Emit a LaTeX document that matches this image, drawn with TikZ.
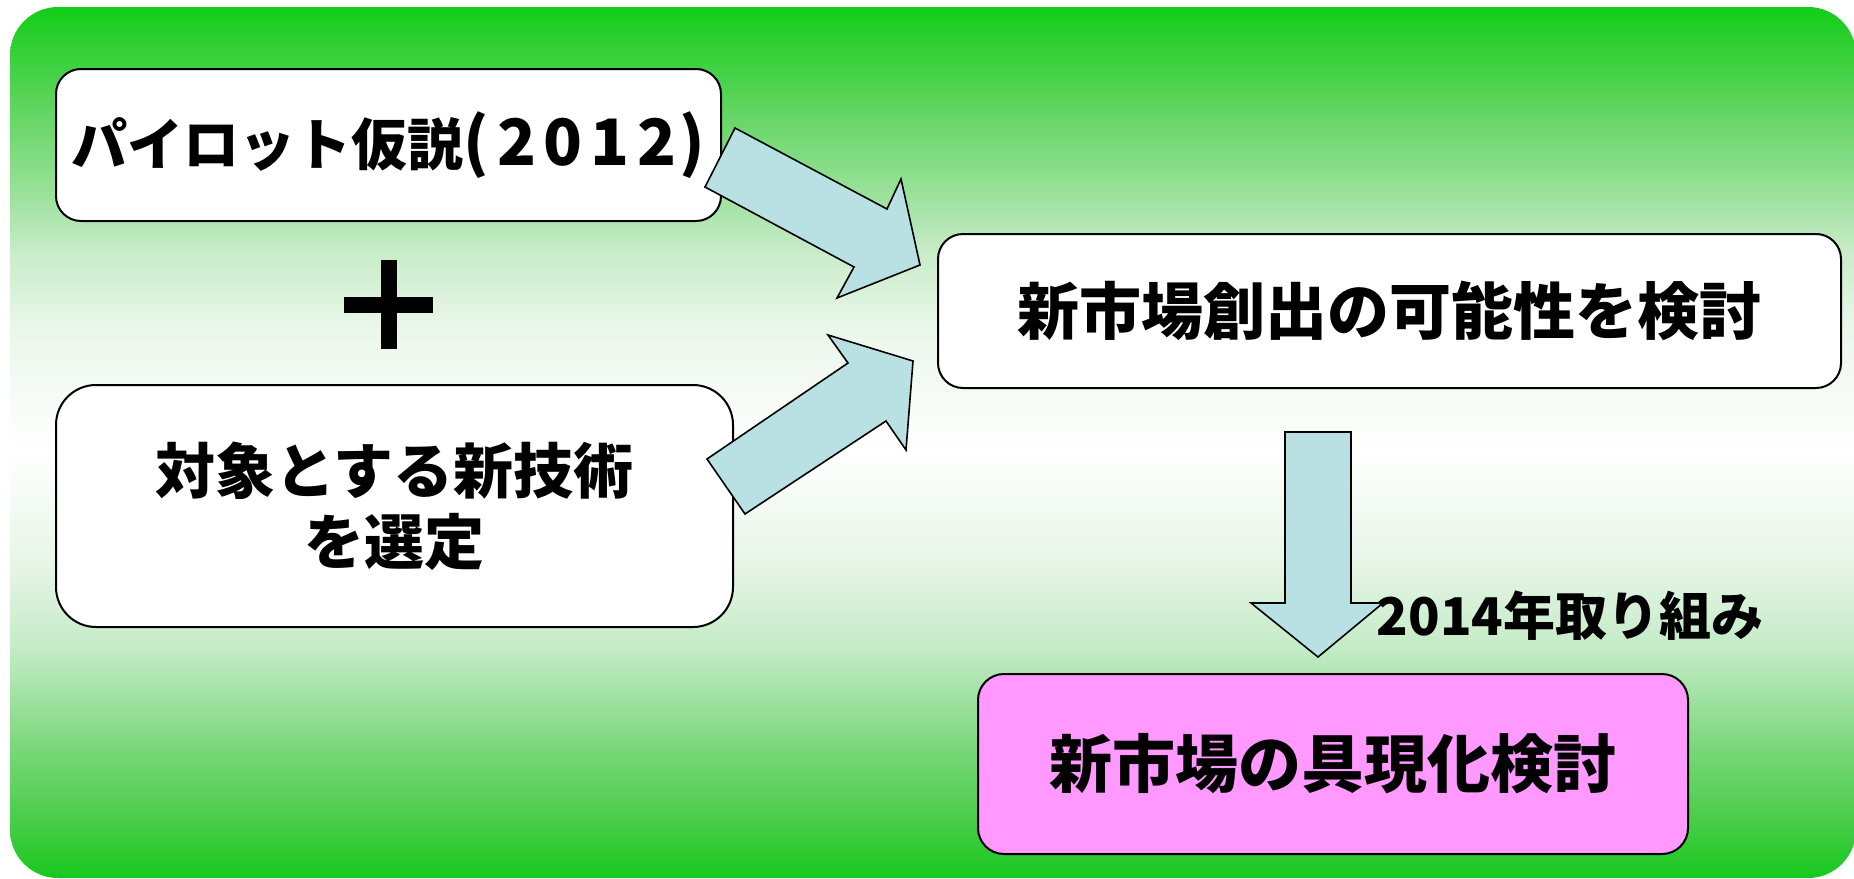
\documentclass[tikz,border=0pt]{standalone}
\usepackage{fontspec}
\setmainfont{Noto Sans CJK JP}
\definecolor{g0}{RGB}{14,204,20}
\definecolor{g1}{RGB}{90,212,90}
\definecolor{g2}{RGB}{160,226,160}
\definecolor{g3}{RGB}{200,236,200}
\definecolor{g4}{RGB}{235,247,235}
\definecolor{g5}{RGB}{255,255,255}
\definecolor{g6}{RGB}{232,246,232}
\definecolor{g7}{RGB}{195,235,198}
\definecolor{g8}{RGB}{120,215,120}
\definecolor{g9}{RGB}{75,205,75}
\definecolor{g10}{RGB}{22,200,28}
\definecolor{arrowblue}{RGB}{185,224,227}
\definecolor{boxpink}{RGB}{255,153,255}
\begin{document}
\begin{tikzpicture}[x=1pt,y=-1pt,
  box/.style={draw=black, line width=2pt, fill=white, inner sep=0pt, align=center},
  blockarrow/.style={draw=black, line width=1.6pt, fill=arrowblue, line join=miter},
  plusbar/.style={fill=black, draw=none}]
\useasboundingbox (0,0) rectangle (1854,878);
% background
\begin{scope}
\clip[rounded corners=48pt] (10,7) rectangle (1856,878);
\shade[top color=g0, bottom color=g1] (0,0) rectangle (1860,101);
\shade[top color=g1, bottom color=g2] (0,100) rectangle (1860,201);
\shade[top color=g2, bottom color=g3] (0,200) rectangle (1860,251);
\shade[top color=g3, bottom color=g4] (0,250) rectangle (1860,331);
\shade[top color=g4, bottom color=g5] (0,330) rectangle (1860,451);
\shade[top color=g5, bottom color=g6] (0,450) rectangle (1860,561);
\shade[top color=g6, bottom color=g7] (0,560) rectangle (1860,651);
\shade[top color=g7, bottom color=g8] (0,650) rectangle (1860,751);
\shade[top color=g8, bottom color=g9] (0,750) rectangle (1860,818);
\shade[top color=g9, bottom color=g10] (0,817) rectangle (1860,880);
\end{scope}
% boxes
\node[box, rounded corners=25pt, minimum width=665pt, minimum height=152pt,
  font=\fontsize{56}{64}\selectfont\bfseries] (pilot) at (388.5,145)
  {パイロット仮説{\fontsize{64}{64}\selectfont(\hspace{0.12em}{\addfontfeature{LetterSpace=12}2012}\hspace{0.05em})}};
\node[box, rounded corners=40pt, minimum width=677pt, minimum height=242pt,
  font=\fontsize{60}{71}\selectfont\bfseries] (tech) at (394.5,506)
  {対象とする新技術\\を選定};
\node[box, rounded corners=25pt, minimum width=903pt, minimum height=154pt,
  font=\fontsize{62}{70}\selectfont\bfseries] (market) at (1389.5,311)
  {新市場創出の可能性を検討};
\node[box, fill=boxpink, rounded corners=26pt, minimum width=710pt, minimum height=180pt,
  font=\fontsize{63}{70}\selectfont\bfseries] (real) at (1333,764)
  {新市場の具現化検討};
% plus sign
\fill[plusbar] (381,260) rectangle (397,349);
\fill[plusbar] (344,297) rectangle (433,313);
% block arrows
\draw[blockarrow] (735,128) -- (887,209) -- (901,179) -- (920,265) -- (837,298)
  -- (854,267) -- (705,187) -- cycle;
\draw[blockarrow] (745,514) -- (886,421) -- (906,450) -- (913,361) -- (828,335)
  -- (848,363) -- (707,459) -- cycle;
\draw[blockarrow] (1285,432) -- (1351,432) -- (1351,603) -- (1383,603) -- (1318,657)
  -- (1251,603) -- (1285,603) -- cycle;
% label
\node[font=\fontsize{52}{60}\selectfont\bfseries, inner sep=0pt] (year) at (1570,616)
  {2014年取り組み};
\end{tikzpicture}
\end{document}
